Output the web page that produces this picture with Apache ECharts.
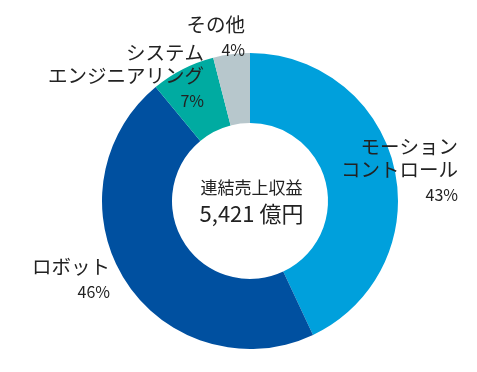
<!DOCTYPE html>
<html>
<head>
<meta charset="utf-8">
<script src="https://cdn.jsdelivr.net/npm/echarts@6/dist/echarts.min.js"></script>
<style>
html,body{margin:0;padding:0;background:#fff;}
#chart{width:477px;height:372px;}
</style>
</head>
<body>
<div id="chart"></div>
<script>
var categories = ['モーション\nコントロール', 'ロボット', 'システム\nエンジニアリング', 'その他'];
var shares = [43, 46, 7, 4];
var centerLabel = ['連結売上収益', '5,421 億円'];

var colors = ['#00a0dc', '#0050a0', '#00aba1', '#b7c7cc'];
var labelPos = [
  {x: 458, y: 135},
  {x: 110, y: 255},
  {x: 204, y: 41},
  {x: 245, y: 13}
];
var FONT = '"Noto Sans CJK JP", "Noto Sans", sans-serif';

var chart = echarts.init(document.getElementById('chart'));
chart.setOption({
  animation: false,
  backgroundColor: '#fff',
  graphic: [
    {type: 'text', x: 251.5, y: 188, style: {text: centerLabel[0], font: '17px ' + FONT, fill: '#222', align: 'center', verticalAlign: 'middle'}},
    {type: 'text', x: 251.5, y: 214, style: {text: centerLabel[1], font: '22px ' + FONT, fill: '#222', align: 'center', verticalAlign: 'middle'}}
  ],
  series: [{
    type: 'pie',
    radius: [78, 148],
    center: [250, 201],
    startAngle: 90,
    clockwise: true,
    silent: true,
    emphasis: {disabled: true},
    itemStyle: {borderWidth: 0},
    labelLine: {show: false},
    label: {
      show: true,
      position: 'outside',
      overflow: 'none',
      formatter: function (p) { return '{n|' + p.name + '}\n{p|' + p.percent + '%}'; },
      align: 'right',
      rich: {
        n: {fontFamily: FONT, fontSize: 19.5, lineHeight: 23, color: '#222', align: 'right'},
        p: {fontFamily: FONT, fontSize: 16, lineHeight: 28, color: '#222', align: 'right'}
      }
    },
    labelLayout: function (params) {
      var pos = labelPos[params.dataIndex];
      return {x: pos.x, y: pos.y, align: 'right', verticalAlign: 'top', hideOverlap: false};
    },
    data: categories.map(function (c, i) {
      return {name: c, value: shares[i], itemStyle: {color: colors[i]}};
    })
  }]
});
</script>
</body>
</html>
